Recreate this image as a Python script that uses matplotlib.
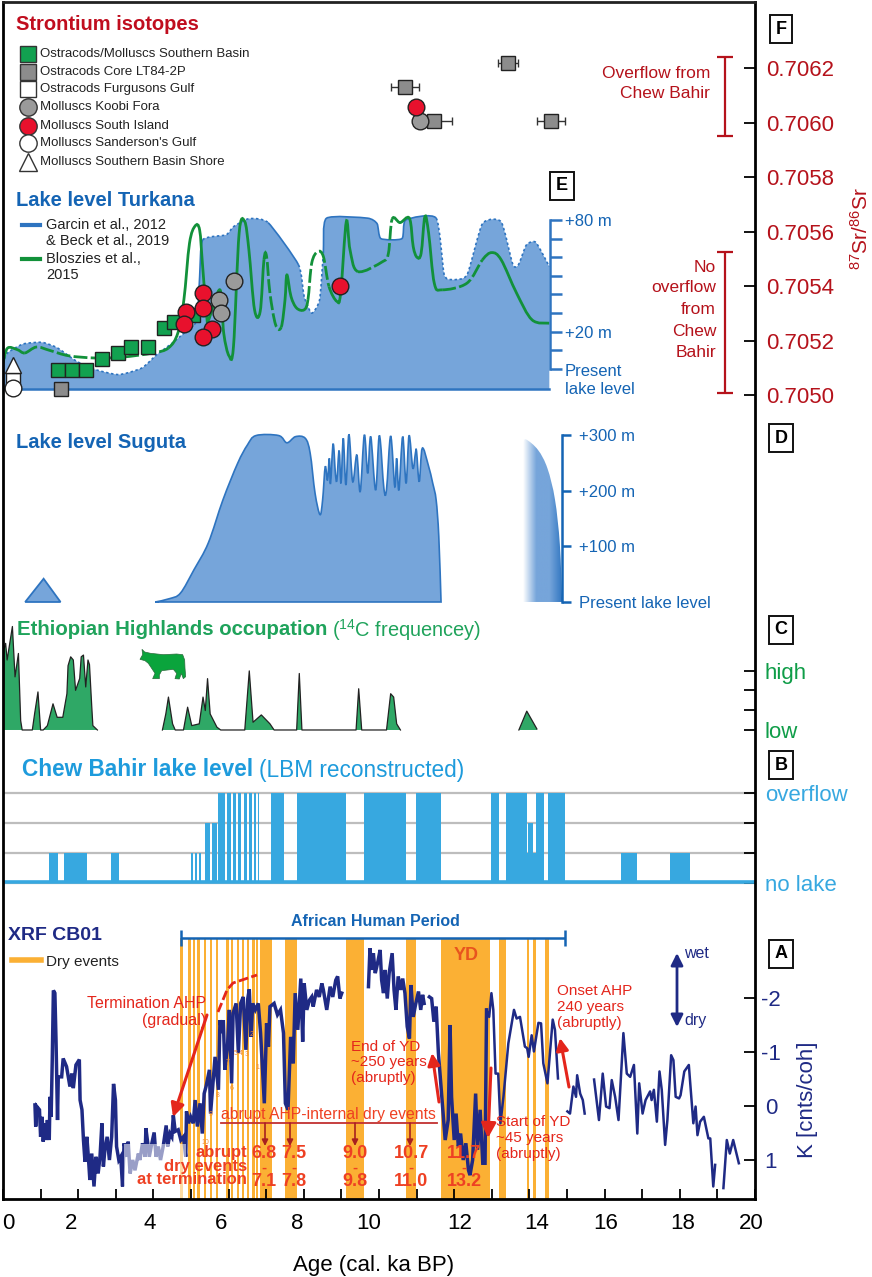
import numpy as np
import matplotlib
matplotlib.use("Agg")
import matplotlib.pyplot as plt
from matplotlib.colors import LinearSegmentedColormap
from matplotlib.patches import Polygon, PathPatch
from matplotlib.path import Path
from matplotlib.transforms import ScaledTranslation

plt.rcParams['font.family'] = ['Liberation Sans', 'DejaVu Sans']
plt.rcParams['mathtext.default'] = 'regular'

W, H = 872, 1277
nan = np.nan

# F: strontium isotopes (age ka, 87Sr/86Sr)
sr_south_age = [1.47, 1.83, 2.22, 2.62, 3.05, 3.40, 3.86, 4.27, 4.55, 5.04]
sr_south = [.705092, .705092, .705092, .705132, .705154, .705176, .705176, .705246, .705268, .705294]
sr_core_age = [13.44, 10.69, 11.45, 14.58, 1.53]
sr_core = [.706218, .70613, .706006, .706006, .705022]
sr_core_err = [.27, .37, .48, .38, 0]
sr_koobi_age = [11.09, 5.74, 5.79, 6.15]
sr_koobi = [.706006, .705349, .705301, .705418]
sr_island_age = [10.99, 4.86, 4.81, 5.31, 5.31, 5.55, 5.31, 8.97]
sr_island = [.706057, .705305, .705261, .705374, .705319, .705242, .705213, .7054]
sr_white_age = [.26, .26, .26]
sr_white = [.70511, .705055, .705026]
sr_ticks = [.7050, .7052, .7054, .7056, .7058, .7060, .7062]

# E: Turkana lake level (age ka, m above present)
turkana_age = [0, .12, .53, 1.04, 1.45, 1.96, 2.47, 3.08, 3.69, 4.09, 4.5, 4.91, 5.16, 5.23, 5.31, 5.93, 6.13,
               6.54, 7.05, 7.86, 8.01, 8.21, 8.42, 8.52, 8.6, 9.69, 9.95, 10.05, 10.61, 10.71, 11.52, 11.73,
               11.93, 12.34, 12.75, 13.25, 13.56, 13.71, 13.92, 14.17, 14.53]
turkana_m = [3, 8.6, 13.4, 14.3, 11.3, 4.1, -.4, -3, .5, 7.7, 13.9, 21, 26.4, 49.6, 69.3, 72, 76.4,
             80.7, 78.6, 55.9, 38.9, 30, 37.1, 62, 80.9, 81, 78, 70, 70, 80, 81, 51,
             48, 50.5, 78, 79, 56, 56, 66.6, 68, 55]
bloszies_age = [0, .12, .38, .58, .89, 1.24, 1.75, 2.47, 3.18, 3.99, 4.4, 4.65, 4.81, 4.96, 5.11, 5.23, 5.31, 5.42,
                5.47, 5.77, 5.87, 6.01, 6.13, 6.28, 6.43, 6.54, 6.69, 6.84, 6.94, 7.01, 7.1, 7.25, 7.4, 7.5, 7.55,
                7.66, 7.81, 8.01, 8.11, 8.21, 8.37, 8.52, 8.67, 8.88, 8.98, 9.13, 9.23, 9.44, 10.1, 10.25, 10.35,
                10.56, 10.81, 10.91, 11.01, 11.12, 11.22, 11.32, 11.47, 11.68, 12.34, 12.75, 13.0, 13.25, 13.66,
                14.07, 14.53]
bloszies_m = [3.2, 11.2, 10.4, 8.6, 11.8, 10, 7.1, 5.9, 6.4, 8.6, 11.3, 19.3, 37, 67.5, 76.8, 74.6, 55, 28,
              26.4, 42.5, 19.3, 7.1, 12.1, 72.9, 79.1, 63.9, 31.8, 30.9, 58.6, 60.4, 40.7, 23.8, 22.5, 37.1, 50.5,
              38.9, 32.7, 31.8, 37.1, 56.8, 63, 60.4, 44.3, 36.3, 40.7, 79.1, 63.9, 52.3, 57.7, 62.1, 80.5,
              78.6, 80.9, 65.7, 60, 62.1, 81.8, 72.9, 46.1, 42.5, 46.1, 58.6, 62.5, 58.6, 40.7,
              26.4, 24.6]
bloszies_dashed = [(.7, 4.3), (6.94, 7.4), (8.11, 8.6), (9.44, 10.3), (11.7, 12.7)]
turkana_dotted = [(0, 5.16), (5.31, 7.05), (7.86, 8.5), (11.52, 14.53)]
turkana_ticks = [0, 10, 20, 30, 40, 50, 60, 70, 80]

# D: Suguta lake level
suguta_small_age = [.59, 1.08, 1.53]
suguta_small_m = [0, 41.8, 0]
suguta_age = [4.05, 4.43, 4.72, 5.08, 5.46, 5.85, 6.24, 6.5, 6.73, 7.33, 7.55, 7.78, 8.04, 8.17, 8.3, 8.43,
              8.5, 8.57, 8.63, 8.68, 8.71, 8.78, 8.84, 8.88, 8.94, 8.99, 9.05, 9.12, 9.2, 9.3, 9.41, 9.5, 9.61,
              9.7, 9.78, 9.91, 10.01, 10.13, 10.2, 10.31, 10.42, 10.47, 10.53, 10.63, 10.72, 10.8, 10.9, 10.97,
              11.0, 11.07, 11.15, 11.31, 11.43, 11.52, 11.59, 11.65]
suguta_m = [0, 6, 16, 58, 106, 183.5, 249, 282, 299, 299, 286, 297, 294, 267, 195, 157,
            183, 243, 219, 258, 213, 284, 231, 219, 272, 213, 294, 210, 301, 216, 264, 198, 300,
            231, 297, 201, 299, 204, 202, 298, 207, 258, 201, 297, 213, 299, 240, 268,
            270, 216, 276, 246, 213, 183, 118, 0]
suguta_old_age = [13.82, 13.91, 14.23, 14.48, 14.68, 14.81, 14.87]
suguta_old_m = [285, 292, 273, 240, 184, 103, 0]

# C: 14C frequency, Ethiopian Highlands
c14_age = [0, .02, .07, .11, .25, .32, .41, .47, .51, .78, .84, .93, 1.0, 1.07, 1.18, 1.33, 1.44, 1.59, 1.7, 1.73, 1.8,
           1.87, 1.93, 2.04, 2.08, 2.14, 2.2, 2.26, 2.3, 2.36, 2.39, 2.51, nan,
           4.24, 4.33, 4.4, 4.51, 4.58, 4.8, 4.91, 5.02, 5.22, 5.32, 5.38, 5.44, 5.51, 5.69, 5.79, 6.43, 6.55, 6.65,
           6.87, 7.1, 7.21, 7.81, 7.88, 7.95, 9.39, 9.46, 9.54, 10.2, 10.31, 10.39, 10.47, 10.57, nan,
           13.72, 13.93, 14.2]
c14_freq = [0, 4.03, 4.37, 3.53, 5.22, 2.68, 3.86, .47, 0, 0, .81, 1.92, 0, 0, .22, 1.32, .64, .64, 1.83, 3.24, 3.69,
            3.53, 2, 2.6, 3.69, 3.78, 2.17, 3.53, 3.3, 1.2, .22, 0, nan,
            0, .81, 1.66, .31, 0, 0, 1.15, .22, .31, 1.66, .98, 2.59, .81, .14, 0, 0, 2.98, .39,
            .76, .31, 0, 0, 2.85, 0, 0, 2.08, 0, 0, 1.83, 1.66, .31, 0, nan,
            0, .95, .05]
c14_ticks = [0, 1, 2, 3]
c14_ticklabels = ['low', '', '', 'high']

# B: Chew Bahir lake level classes
bahir_start = [1.22, 1.62, 2.88, 4.99, 5.10, 5.21, 5.36, 5.57, 5.73, 5.96, 6.13, 6.25, 6.40, 6.55, 6.68, 6.77,
               7.14, 7.83, 9.61, 10.99, 12.98, 13.38, 13.93, 13.97, 14.09, 14.17, 14.49, 16.44, 17.75]
bahir_end = [1.47, 2.23, 3.09, 5.05, 5.16, 5.26, 5.50, 5.69, 5.91, 6.06, 6.21, 6.34, 6.49, 6.62, 6.72, 6.81,
             7.48, 9.11, 10.72, 11.64, 13.19, 13.93, 13.97, 14.09, 14.17, 14.4, 14.94, 16.86, 18.26]
bahir_level = [1, 1, 1, 1, 1, 1, 2, 2, 3, 3, 3, 3, 3, 3, 3, 3,
               3, 3, 3, 3, 3, 3, 1, 2, 1, 3, 3, 1, 1]
bahir_ticks = [0, 1, 2, 3]
bahir_ticklabels = ['no lake', '', '', 'overflow']

# A: XRF K record, breaks are the gaps of the core
xrf_age = [.85, .87, .90, .97, 1.0, 1.04, 1.07, 1.11, 1.14, 1.18, 1.23, 1.25, 1.28, 1.31, 1.34, 1.38, 1.41, 1.45,
           1.47, 1.56, 1.6, 1.69, 1.78, 1.83, 1.87, 1.94, 2.03, 2.05, 2.1, 2.14, 2.18, 2.23, 2.27, 2.31, 2.36, 2.42,
           2.47, 2.53, 2.58, 2.63, 2.67, 2.71, 2.77, 2.83, 2.89, 2.94, 2.99, 3.02, 3.08, 3.13, 3.18,
           3.22, 3.29, 3.33, 3.38, 3.45, 3.51, 3.6, 3.64, 3.71, 3.78, 3.8, 3.85, 3.89, 3.95, 4.02, 4.07, 4.13, 4.19,
           4.26, 4.34, 4.38, 4.44, 4.49, 4.53, 4.58, 4.66, 4.73, 4.8, 4.86, 4.88,
           4.93, 4.99, 5.06, 5.11, 5.17, 5.24, 5.3, 5.35, 5.4, 5.49, 5.52, 5.59, 5.64, 5.73, 5.77, 5.82, 5.86, 5.9,
           5.97, 6.02, 6.08, 6.12, 6.2, 6.26, 6.32, 6.39, 6.46, 6.51, 6.55, 6.6, 6.64, 6.71, 6.79, 6.85, 6.95, 7.01,
           7.06, 7.1, 7.21, 7.3, 7.38, 7.46, 7.51, 7.58, 7.65, 7.72, 7.77, 7.84, 7.92, 7.97, 8.01, 8.08, 8.15, 8.21,
           8.25, 8.34, 8.41, 8.48, 8.52, 8.61, 8.7, 8.77, 8.85, 8.9, 8.96, 9.01, nan,
           9.72, 9.76, 9.81, 9.85, 9.9, 9.96, 10.03, 10.07, 10.12, 10.16, 10.22, 10.27, 10.35, 10.4, 10.45, 10.51,
           10.58, 10.63, 10.69, 10.75, 10.81, 10.85, 10.91, 10.97, 11.05, 11.11, 11.16, 11.2, nan,
           11.34, 11.4, 11.46, 11.52, 11.58, 11.67, 11.76, 11.84, 11.89, 11.93, 12.0, 12.05, 12.11, 12.17, 12.24,
           12.31, 12.38, 12.42, 12.49, 12.57, 12.62, 12.69, 12.76, 12.82, 12.86, 12.93, 12.99, 13.04, 13.1, 13.17,
           13.23, 13.31, 13.44, 13.59, 13.66, 13.75, 13.88, 13.94, 13.98, 14.06, 14.12, 14.24, 14.31, 14.37, 14.48,
           14.62, 14.68, 14.76, nan,
           15.01, 15.08, 15.17, 15.24, 15.27, 15.35, 15.42, 15.47, nan,
           15.72, 15.85, 15.95, 16.04, 16.13, 16.19, 16.28, 16.37, 16.5, 16.59, 16.68, 16.78, 16.87, 16.92, 17.01,
           17.09, 17.21, 17.25, 17.31, 17.39, 17.46, 17.52, 17.61, 17.67, 17.77, 17.83, 17.89, 17.98, 18.02, 18.12,
           18.24, 18.36, 18.42, 18.47, 18.54, 18.64, 18.76, 18.81, 18.89, 18.94, nan,
           19.16, 19.25, 19.33, 19.42, 19.57]
xrf_k = [-.02, .38, .01, .07, .57, .2, .66, .32, .63, .26, .63, -.17, .2, -.85, -2.14, -2.09, -1.22, .26,
         -.54, -.54, -.88, -.73, -.36, -.6, -.33, -.76, -.86, -.11, .07, .63, 1.03, .57, .94, 1.37, .88, 1.49,
         .94, 1.25, .94, .32, 1.12, .81, .57, 1.0, .57, -.41, -.11, .75, 1.0, .94, 1.49,
         .69, .94, .66, 1.25, 1.0, 1.19, .88, 1.0, .69, .94, .41, .69, .94, .72, .49, .94, .75, 1.0,
         .75, .36, .75, .51, .57, .17, .47, .44, .63, .57, .94, .1,
         .32, .2, .32, -.11, .38, -.05, .51, -.23, -.36, -.67, .14, -.48, -.91, -.3, -1.59, -1.35, -1.59, -.67,
         -1.1, -1.78, -.42, -1.72, -1.9, -.98, -1.9, -2.02, -1.04, -1.99, -2.16, -1.28, -1.9, -1.78, -1.9, -1.35, -.05, -1.53,
         -1.1, -1.84, -1.9, -1.69, -1.78, -1.35, -.05, .07, -1.28, -.79, -2.09, -1.41, -2.36, -1.19, -2.27, -1.78, -1.96, -2.02,
         -1.84, -2.15, -2.02, -2.27, -2.15, -1.78, -2.21, -2.02, -2.33, -2.4, -1.99, -2.09, nan,
         -2.21, -2.92, -2.52, -2.83, -2.46, -2.64, -2.89, -2.33, -2.09, -2.52, -1.99, -2.46, -2.83, -2.15, -1.78, -2.4,
         -2.15, -2.36, -2.09, -1.47, -1.25, -2.24, -1.65, -1.87, -2.12, -1.78, -2.06, -1.9, nan,
         -2.02, -1.99, -1.56, -1.84, -.98, -.17, .63, .26, -1.5, -.17, .63, .14, .75, .51, 1.0,
         .69, 1.19, 1.28, 1.0, -.23, .81, .07, 1.06, 1.06, -1.78, -1.65, -2.09, -1.78, -.6, -.6,
         .32, -.17, -1.16, -1.78, -1.62, -1.65, -1.1, -1.07, -.91, -1.31, -1.01, -1.54, -1.53, -.79, -.42,
         -1.6, -1.41, -.51, nan,
         .1, .14, -.36, -.17, -.57, -.23, -.11, .14, nan,
         -.49, .26, -.6, .01, .04, -.48, -.17, .26, -1.35, -.6, -.54, -.76, .51, -.42, .14,
         -.11, -.27, -.11, -.3, .29, -.64, -.3, .72, .26, -.94, -.85, -.17, -.14, -.2, -.64,
         -.76, .32, .01, .54, .29, .2, .6, .6, 1.49, 1.09, nan,
         1.52, .63, .88, .63, 1.06]
xrf_ticks = [-2, -1, 0, 1]
xrf_ticklabels = ['-2', '-1', '0', '1']
dry_start = [4.72, 4.93, 5.05, 5.17, 5.34, 5.50, 5.67, 5.94, 6.06, 6.22, 6.35, 6.48, 6.63, 6.73, 6.84, 7.5, 9.12,
             10.73, 11.65, 13.2, 13.93, 14.1, 14.41]
dry_end = [4.80, 4.99, 5.11, 5.23, 5.40, 5.56, 5.73, 6.00, 6.12, 6.28, 6.41, 6.54, 6.69, 6.79, 7.15, 7.83, 9.59,
           10.98, 12.95, 13.38, 14.0, 14.17, 14.51]
# small event numbers written along the curve
event_age = [6.62, 6.49, 6.33, 6.2, 6.76, 5.96, 6.09, 5.72, 5.53, 5.37]
event_k = [-1.33, -.96, -.98, -.98, -.72, -.80, -.33, -.20, .15, .67]
event_label = ['2', '3', '4', '5', '1', '7', '6', '8', '9', '10']

age_ticks = list(range(0, 21, 2))
age_minor = list(range(1, 21, 2))

RED = '#B5121B'
BLUE = '#1464B4'
AREA = '#76A5DA'
EDGE = '#2E74C0'
GREEN = '#0F9D48'
SKY = '#37A8E0'
NAVY = '#1F2A85'
ORANGE = '#FBB034'
ALERT = '#E4261C'
VALUE = '#EE4023'


def panel(top, bottom, ylow, yhigh):
    ax = fig.add_axes([3 / W, 1 - bottom / H, 752 / W, (bottom - top) / H])
    ax.set_xlim(0, 20)
    ax.set_ylim(ylow, yhigh)
    ax.patch.set_visible(False)
    ax.set_xticks([])
    for s in ax.spines.values():
        s.set_visible(False)
    ax.yaxis.tick_right()
    return ax


def ftext(px, py, s, **kw):
    kw.setdefault('va', 'center')
    return fig.text(px / W, 1 - py / H, s, **kw)


def arrow(a, b, color=ALERT, lw=2, scale=16, style='-|>'):
    ax0.annotate('', xy=(b[0], H - b[1]), xytext=(a[0], H - a[1]), xycoords='figure pixels',
                 textcoords='figure pixels',
                 arrowprops=dict(arrowstyle=style, color=color, lw=lw, mutation_scale=scale,
                                 shrinkA=0, shrinkB=0))


def bezier_segments(x, y, k):
    # one cubic per interval, so the pen runs through every read value
    p = np.column_stack([x, y])
    n = len(p)
    segs = []
    for i in range(n - 1):
        p0, p1, p2, p3 = p[max(i - 1, 0)], p[i], p[i + 1], p[min(i + 2, n - 1)]
        segs.append((p1, p1 + (p2 - p0) * k, p2 - (p3 - p1) * k, p2))
    return segs


def curve_area(ax, x, y, base, k, **kw):
    segs = bezier_segments(x, y, k)
    verts = [(x[0], base), segs[0][0]]
    codes = [Path.MOVETO, Path.LINETO]
    for s in segs:
        verts += [s[1], s[2], s[3]]
        codes += [Path.CURVE4] * 3
    verts += [(x[-1], base), (x[0], base)]
    codes += [Path.LINETO, Path.CLOSEPOLY]
    patch = PathPatch(Path(verts, codes), **kw)
    ax.add_patch(patch)
    return patch


def curve_line(ax, x, y, ranges, k, color, lw, ls):
    # solid outside the given age ranges, broken line style inside them
    segs = bezier_segments(x, y, k)
    mids = [(a + b) / 2 for a, b in zip(x[:-1], x[1:])]
    flags = [any(lo <= m <= hi for lo, hi in ranges) for m in mids]
    i = 0
    while i < len(segs):
        j = i
        while j + 1 < len(segs) and flags[j + 1] == flags[i]:
            j += 1
        verts = [segs[i][0]]
        codes = [Path.MOVETO]
        for s in segs[i:j + 1]:
            verts += [s[1], s[2], s[3]]
            codes += [Path.CURVE4] * 3
        ax.add_patch(PathPatch(Path(verts, codes), fc='none', ec=color, lw=lw, ls=ls if flags[i] else '-'))
        i = j + 1


fig = plt.figure(figsize=(W / 100, H / 100), dpi=100)
ax0 = fig.add_axes([3 / W, 1 - 1199 / H, 752 / W, 1197 / H], zorder=5)
ax0.patch.set_visible(False)
ax0.set_xlim(0, 20)
ax0.set_ylim(0, 1)
ax0.set_yticks([])
ax0.set_xticks(age_ticks)
ax0.set_xticks(age_minor, minor=True)
ax0.tick_params(axis='x', which='both', direction='in', length=7, width=1.3, top=False)
ax0.tick_params(axis='x', which='major', labelsize=16, pad=10)
for s in ax0.spines.values():
    s.set_linewidth(2)
ax0.spines['top'].set_color('#222222')
label_shift = [5, -7, -4, -8, -7, -10, 5, 7, 1, 3, -4]
for lab, dx in zip(ax0.get_xticklabels(), label_shift):
    lab.set_transform(lab.get_transform() + ScaledTranslation(dx / 100, 0, fig.dpi_scale_trans))
ftext(374, 1265, 'Age (cal. ka BP)', ha='center', fontsize=16)

# --- A: XRF (K axis runs downward, wet on top)
axA = panel(905, 1199, 1.722, -3.722)
axA.bar(dry_start, np.full(len(dry_start), 4.83), width=np.subtract(dry_end, dry_start), bottom=-3.11,
        align='edge', color=ORANGE, lw=0, zorder=1)
# the older part of the core is sampled less densely and reads as a thinner line
xrf_a = np.array(xrf_age)
xrf_v = np.array(xrf_k)
dense = np.isnan(xrf_a) | (xrf_a < 12.9)
axA.plot(xrf_a[dense], xrf_v[dense], color=NAVY, lw=2.5, solid_joinstyle='miter', zorder=2)
sparse = np.isnan(xrf_a) | (xrf_a >= 12.86)
axA.plot(xrf_a[sparse], xrf_v[sparse], color=NAVY, lw=1.8, solid_joinstyle='round', zorder=2)
axA.fill_between([3.22, 4.86], .71, 1.722, color='white', alpha=.55, lw=0, zorder=3)
axA.errorbar([(4.73 + 14.95) / 2], [-3.11], xerr=[(14.95 - 4.73) / 2], color=BLUE, lw=1.8, capsize=5.5,
             capthick=1.8, zorder=4)
for a, k, s in zip(event_age, event_k, event_label):
    axA.text(a, k, s, color='#F28C38', fontsize=5, ha='center', va='center', zorder=4)
axA.set_yticks(xrf_ticks, xrf_ticklabels)
axA.tick_params(axis='y', direction='in', length=8, width=1.3, labelsize=16, pad=11.5, labelcolor=NAVY)
for lab in axA.get_yticklabels():
    lab.set_ha('center')

# --- B: Chew Bahir
axB = panel(785, 890, -.233, 3.267)
for lev in bahir_ticks:
    axB.axhline(lev, color='#BDBDBD', lw=1.6, zorder=1)
axB.bar(bahir_start, bahir_level, width=np.subtract(bahir_end, bahir_start), align='edge', color=SKY, lw=0, zorder=2)
axB.plot([0, 20], [.02, .02], color=SKY, lw=2.6, zorder=3)
axB.set_yticks(bahir_ticks, bahir_ticklabels)
axB.tick_params(axis='y', direction='in', length=8, width=1.3, labelsize=16, pad=7, labelcolor=SKY)

# --- C: occupation
axC = panel(615, 735, -.253, 5.8)
axC.fill_between(c14_age, 0, c14_freq, color='#2FA866', lw=0)
axC.plot(c14_age, c14_freq, color='#222222', lw=.9)
axC.set_yticks(c14_ticks, c14_ticklabels)
axC.tick_params(axis='y', direction='in', length=8, width=1.3, labelsize=16, pad=7, labelcolor=GREEN)
cow_px = [(66, 28), (74, 36), (92, 40), (130, 44), (170, 42), (188, 44), (194, 60), (195, 85), (197, 110), (190, 116),
          (184, 100), (178, 117), (165, 116), (170, 100), (160, 88), (125, 92), (118, 105), (118, 116), (98, 116),
          (105, 100), (95, 85), (85, 70), (75, 62), (60, 58), (68, 44)]
cow_xy = [((120 + x / 3) / W, 1 - (640 + y / 3) / H) for x, y in cow_px]
fig.add_artist(Polygon(cow_xy, closed=True, transform=fig.transFigure, fc='#0AA43C', ec='#2D6B3D', lw=.5))

# --- D: Suguta
axD = panel(420, 610, -14.4, 326.9)
axD.fill(suguta_small_age, suguta_small_m, fc=AREA, ec=EDGE, lw=1.3)
curve_area(axD, suguta_age, suguta_m, 0, 1 / 6, fc=AREA, ec=EDGE, lw=1.2)
clip = curve_area(axD, suguta_old_age, suguta_old_m, 0, 1 / 6, fc='none', ec='none')
grad = LinearSegmentedColormap.from_list('fade', ['white', AREA, AREA, '#2E74C0'])
im = axD.imshow(np.linspace(0, 1, 128).reshape(1, -1), extent=[13.82, 14.87, 0, 300], cmap=grad, aspect='auto', zorder=1)
im.set_clip_path(clip)
axD.set_xlim(0, 20)
axD.set_ylim(-14.4, 326.9)
axD.spines['right'].set_visible(True)
axD.spines['right'].set_position(('data', 14.87))
axD.spines['right'].set_bounds(0, 300)
axD.spines['right'].set_color(BLUE)
axD.spines['right'].set_linewidth(1.8)
axD.set_yticks([0, 100, 200, 300], ['Present lake level', '+100 m', '+200 m', '+300 m'])
axD.tick_params(axis='y', direction='out', length=6.5, width=1.8, color=BLUE, labelsize=12, pad=6, labelcolor=BLUE)

# --- E: Turkana
axE = panel(205, 400, -16.64, 88.05)
curve_area(axE, turkana_age, turkana_m, -10.7, .1, fc=AREA, ec='none')
curve_line(axE, turkana_age, turkana_m, turkana_dotted, .1, EDGE, 1.2, (0, (1.5, 1.5)))
axE.plot([0, 14.53], [-10.7, -10.7], color=EDGE, lw=1.8)
curve_line(axE, bloszies_age, bloszies_m, bloszies_dashed, 1 / 6, '#12913A', 2, (0, (5, 1.2)))
axE.spines['right'].set_visible(True)
axE.spines['right'].set_position(('data', 14.55))
axE.spines['right'].set_bounds(0, 80)
axE.spines['right'].set_color(EDGE)
axE.spines['right'].set_linewidth(1.8)
axE.set_yticks(turkana_ticks, ['', '', '+20 m', '', '', '', '', '', '+80 m'])
axE.tick_params(axis='y', direction='out', length=8.5, width=1.8, color=EDGE, labelsize=12, pad=2, labelcolor=BLUE)
ftext(565, 371, 'Present', color=BLUE, fontsize=12)
ftext(565, 389, 'lake level', color=BLUE, fontsize=12)

# --- F: strontium
axF = panel(3, 410, .704945, .706439)
axF.errorbar(sr_core_age, sr_core, xerr=sr_core_err, fmt='none', ecolor='#333333', elinewidth=1, capsize=3, zorder=2)
axF.plot(sr_south_age, sr_south, 's', ms=10, mfc='#12A150', mec='#222222', mew=1, zorder=3)
axF.plot(sr_core_age, sr_core, 's', ms=10, mfc='#8C8C8C', mec='#222222', mew=1, zorder=3)
axF.plot(sr_white_age[1:2], sr_white[1:2], 's', ms=10, mfc='white', mec='#222222', mew=1, zorder=3)
axF.plot(sr_white_age[2:], sr_white[2:], 'o', ms=12, mfc='white', mec='#222222', mew=1, zorder=4)
axF.plot(sr_white_age[:1], sr_white[:1], '^', ms=12, mfc='white', mec='#222222', mew=1, zorder=4)
axF.plot(sr_koobi_age, sr_koobi, 'o', ms=12, mfc='#9A9A9A', mec='#222222', mew=1, zorder=4)
axF.plot(sr_island_age, sr_island, 'o', ms=12, mfc='#E8112D', mec='#222222', mew=1, zorder=5)
axF.set_yticks(sr_ticks, ['%.4f' % v for v in sr_ticks])
axF.tick_params(axis='y', direction='in', length=8, width=1.3, labelsize=16, pad=8, labelcolor=RED)
axF.errorbar([19.2], [.706095], yerr=[.000145], color=RED, lw=1.6, capsize=6, capthick=1.6)
axF.errorbar([19.2], [.705266], yerr=[.000259], color=RED, lw=1.6, capsize=6, capthick=1.6)

# --- panel letters
for s, px, py in (('F', 781, 29), ('E', 562, 186), ('D', 781, 438), ('C', 781, 630), ('B', 781, 765), ('A', 781, 954)):
    ftext(px, py, s, ha='center', fontsize=13, fontweight='bold', zorder=8,
          bbox=dict(boxstyle='square,pad=0.32', fc='white', ec='#111111', lw=1.4))

# --- headings
ftext(16, 25, 'Strontium isotopes', color='#C00D1E', fontsize=14.5, fontweight='bold')
ftext(16, 201, 'Lake level Turkana', color=BLUE, fontsize=14.5, fontweight='bold')
ftext(16, 443, 'Lake level Suguta', color=BLUE, fontsize=14.5, fontweight='bold')
rend = fig.canvas.get_renderer()
t = ftext(17, 630, 'Ethiopian Highlands occupation', color='#1FA35B', fontsize=14.7, fontweight='bold')
ftext(t.get_window_extent(rend).x1 + 5, 630, r'($^{14}$C frequencey)', color='#1FA35B', fontsize=14.4)
t = ftext(22, 770, 'Chew Bahir lake level', color='#1E9BDC', fontsize=16.3, fontweight='bold')
ftext(t.get_window_extent(rend).x1 + 6, 770, '(LBM reconstructed)', color='#1E9BDC', fontsize=16.3)
ftext(8, 936, 'XRF CB01', color=NAVY, fontsize=14, fontweight='bold')
ftext(375, 922, 'African Human Period', color=BLUE, fontsize=11.5, fontweight='bold', ha='center')

# --- Sr legend
legend_py = [54, 72, 89, 107, 126, 143, 162]
legend_txt = ['Ostracods/Molluscs Southern Basin', 'Ostracods Core LT84-2P', 'Ostracods Furgusons Gulf', 'Molluscs Koobi Fora',
              'Molluscs South Island', "Molluscs Sanderson's Gulf", 'Molluscs Southern Basin Shore']
legend_mark = ['s', 's', 's', 'o', 'o', 'o', '^']
legend_fc = ['#12A150', '#8C8C8C', 'white', '#9A9A9A', '#E8112D', 'white', 'white']
for py, s, m, fc in zip(legend_py, legend_txt, legend_mark, legend_fc):
    ax0.plot([28 / W], [1 - py / H], m, ms=11 if m == 's' else 12.5, mfc=fc, mec='#333333', mew=1,
             transform=fig.transFigure, clip_on=False)
    ftext(40, py, s, fontsize=9.5, color='#222222')

# --- Turkana legend
ax0.plot([22 / W, 40 / W], [1 - 225 / H] * 2, color=EDGE, lw=3, transform=fig.transFigure)
ax0.plot([22 / W, 40 / W], [1 - 259 / H] * 2, color='#12913A', lw=3, transform=fig.transFigure)
ftext(46, 225, 'Garcin et al., 2012', fontsize=10.5, color='#222222')
ftext(46, 241, '& Beck et al., 2019', fontsize=10.5, color='#222222')
ftext(46, 259, 'Bloszies et al.,', fontsize=10.5, color='#222222')
ftext(46, 275, '2015', fontsize=10.5, color='#222222')

# --- right side labels
ftext(710, 73, 'Overflow from', color=RED, fontsize=12.5, ha='right')
ftext(710, 93, 'Chew Bahir', color=RED, fontsize=12.5, ha='right')
for py, s in zip([267, 288, 310, 332, 353], ['No', 'overflow', 'from', 'Chew', 'Bahir']):
    ftext(716, py, s, color=RED, fontsize=12.5, ha='right')
ftext(861, 228, r'$^{87}$Sr/$^{86}$Sr', color=RED, fontsize=15, rotation=90, ha='center')
ftext(807, 1100, 'K [cnts/coh]', color=NAVY, fontsize=16, rotation=90, ha='center')

# --- A annotations
ax0.plot([12 / W, 41 / W], [1 - 960 / H] * 2, color=ORANGE, lw=4, transform=fig.transFigure)
ftext(46, 962, 'Dry events', fontsize=11, color='#222222')
ftext(206, 1004, 'Termination AHP', color=ALERT, fontsize=11.5, ha='right')
ftext(206, 1021, '(gradual)', color=ALERT, fontsize=11.5, ha='right')
for py, s in zip([1047, 1062, 1078], ['End of YD', '~250 years', '(abruptly)']):
    ftext(351, py, s, color=ALERT, fontsize=11)
for py, s in zip([991, 1007, 1023], ['Onset AHP', '240 years', '(abruptly)']):
    ftext(557, py, s, color=ALERT, fontsize=11)
for py, s in zip([1122, 1138, 1154], ['Start of YD', '~45 years', '(abruptly)']):
    ftext(496, py, s, color=ALERT, fontsize=11)
ftext(221, 1115, 'abrupt AHP-internal dry events', color=VALUE, fontsize=11.3)
ax0.plot([221 / W, 437 / W], [1 - 1123 / H] * 2, color='#C13030', lw=1.3, transform=fig.transFigure)
for px in [265, 290, 355, 410]:
    arrow((px, 1123), (px, 1146), color='#A8201F', lw=1.2, scale=9)
for px, a, b in ((264, '6.8', '7.1'), (294, '7.5', '7.8'), (355, '9.0', '9.8'), (411, '10.7', '11.0'), (464, '11.7', '13.2')):
    ftext(px, 1154, a, color=VALUE, fontsize=13, fontweight='bold', ha='center')
    ftext(px, 1168, '-', color=VALUE, fontsize=11, fontweight='bold', ha='center')
    ftext(px, 1181, b, color=VALUE, fontsize=13, fontweight='bold', ha='center')
for py, s in zip([1153, 1166, 1179], ['abrupt', 'dry events', 'at termination']):
    ftext(247, py, s, color=VALUE, fontsize=12, fontweight='bold', ha='right')
ftext(466, 955, 'YD', color='#E8541E', fontsize=13, fontweight='bold', ha='center')
arrow((207, 1015), (173, 1117), lw=2.2, scale=20)
ax0.plot(np.array([218, 227, 233, 245, 257]) / W, 1 - np.array([1012, 990, 983, 979, 975]) / H, color=ALERT, lw=2,
         ls=(0, (3.5, 1.2)), transform=fig.transFigure)
arrow((439, 1102), (432, 1053), lw=2.2, scale=18)
arrow((491, 1068), (488, 1138), lw=2.2, scale=22)
arrow((569, 1087), (560, 1038), lw=2.2, scale=18)
arrow((677, 953), (677, 1027), color=NAVY, lw=2, scale=18, style='<|-|>')
ftext(684, 953, 'wet', color=NAVY, fontsize=11.5)
ftext(684, 1021, 'dry', color=NAVY, fontsize=11.5)

fig.savefig('out.png', dpi=100, facecolor='white')
